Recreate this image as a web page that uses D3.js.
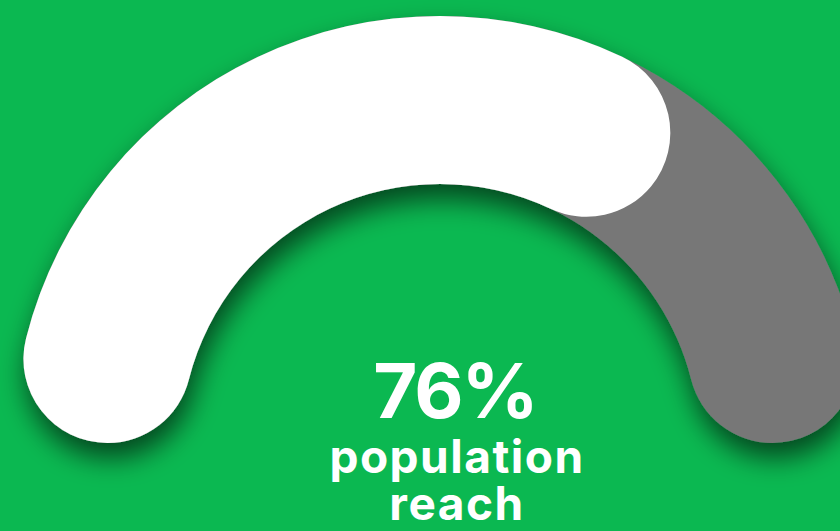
<!DOCTYPE html>
<meta charset="utf-8">
<script src="https://d3js.org/d3.v7.min.js"></script>
<style>
  html, body { margin: 0; padding: 0; background: #0bb851; overflow: hidden; }
  .label { font-family: Inter, "Noto Sans", sans-serif; fill: #fff; text-anchor: middle; }
</style>
<div id="my_dataviz"></div>
<script>

// gauge data
var gaugeMin = 0,
    gaugeMax = 100;
var gaugeValue = [76];
var labelLines = ["population", "reach"];

var width = 840,
    height = 531;

var cx = 440, cy = 443,
    outerR = 427, innerR = 259,
    capR = (outerR - innerR) / 2;

// angle taken by a rounded end, so 0% still shows a cap
var capAngle = Math.asin(capR / (outerR - capR));

var svg = d3.select("#my_dataviz").append("svg")
    .attr("width", width)
    .attr("height", height);

svg.append("rect")
    .attr("width", width)
    .attr("height", height)
    .attr("fill", "#0bb851");

// soft drop shadow under the arcs
var defs = svg.append("defs");
var filter = defs.append("filter")
    .attr("id", "shadow")
    .attr("x", "-20%").attr("y", "-20%")
    .attr("width", "140%").attr("height", "150%");
filter.append("feGaussianBlur").attr("in", "SourceAlpha").attr("stdDeviation", 14);
filter.append("feOffset").attr("dx", 3).attr("dy", 15).attr("result", "off");
filter.append("feComponentTransfer").append("feFuncA").attr("type", "linear").attr("slope", 0.62);
var merge = filter.append("feMerge");
merge.append("feMergeNode");
merge.append("feMergeNode").attr("in", "SourceGraphic");

var angle = d3.scaleLinear()
    .domain([gaugeMin, gaugeMax])
    .range([-Math.PI / 2 + capAngle, Math.PI / 2 - capAngle])
    .clamp(true);

var arc = d3.arc()
    .innerRadius(innerR)
    .outerRadius(outerR)
    .cornerRadius(capR);

var g = svg.append("g")
    .attr("transform", "translate(" + cx + "," + cy + ")")
    .attr("filter", "url(#shadow)");

// grey track
g.append("path")
    .attr("d", arc({ startAngle: -Math.PI / 2, endAngle: Math.PI / 2 }))
    .attr("fill", "#777777");

// white value arc
g.selectAll(".value")
  .data(gaugeValue)
  .enter().append("path")
    .attr("class", "value")
    .attr("d", function(d) { return arc({ startAngle: -Math.PI / 2, endAngle: angle(d) }); })
    .attr("fill", "#ffffff");

// labels
svg.append("text")
    .attr("class", "label")
    .attr("x", 455)
    .attr("y", 418)
    .style("font-size", "76px")
    .style("font-weight", 700)
    .style("letter-spacing", "-2px")
    .text(gaugeValue[0] + "%");

svg.selectAll(".sub")
  .data(labelLines)
  .enter().append("text")
    .attr("class", "label sub")
    .attr("x", 457)
    .attr("y", function(d, i) { return 473 + i * 47; })
    .style("font-size", "46px")
    .style("font-weight", 700)
    .style("letter-spacing", "1.5px")
    .text(function(d) { return d; });

</script>
